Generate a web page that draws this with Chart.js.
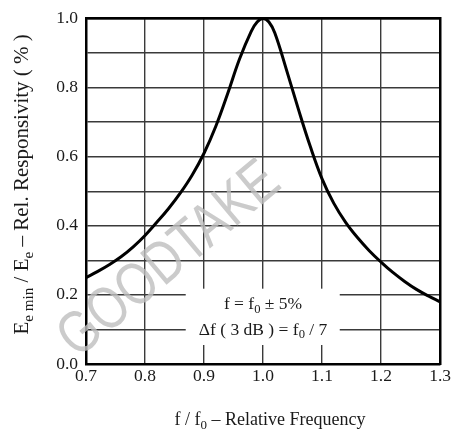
<!DOCTYPE html>
<html>
<head>
<meta charset="utf-8">
<script src="https://cdn.jsdelivr.net/npm/chart.js@4"></script>
<style>
  body { margin: 0; background: #fff; }
  #wrap { width: 453px; height: 430px; }
</style>
</head>
<body>
<div id="wrap"><canvas id="chartCanvas" width="453" height="430"></canvas></div>
<script>
// relative frequency f/f0 and relative responsivity
const freq = [0.70, 0.72, 0.74, 0.76, 0.78, 0.80, 0.82, 0.84, 0.86, 0.88, 0.90, 0.92, 0.94, 0.96, 0.98, 0.99,
  1.00, 1.01, 1.02, 1.04, 1.06, 1.08, 1.10, 1.12, 1.14, 1.16, 1.18, 1.20, 1.22, 1.24, 1.26, 1.28, 1.30];
const responsivity = [0.250, 0.268, 0.288, 0.311, 0.339, 0.372, 0.410, 0.450, 0.495, 0.547, 0.610, 0.688, 0.782, 0.882, 0.963, 0.990,
  1.000, 0.990, 0.958, 0.850, 0.737, 0.630, 0.536, 0.465, 0.410, 0.366, 0.328, 0.295, 0.265, 0.239, 0.216, 0.197, 0.180];

const xTicks = [0.7, 0.8, 0.9, 1.0, 1.1, 1.2, 1.3];
const yLabelTicks = [0.0, 0.2, 0.4, 0.6, 0.8, 1.0];

const xTitle = [{ t: 'f / f' }, { t: '0', sub: true }, { t: ' \u2013 Relative Frequency' }];
const yTitle = [{ t: 'E' }, { t: 'e min', sub: true }, { t: ' / E' }, { t: 'e', sub: true }, { t: ' \u2013 Rel. Responsivity ( % )' }];
const noteLine1 = [{ t: 'f = f' }, { t: '0', sub: true }, { t: ' \u00b1 5%' }];
const noteLine2 = [{ t: '\u0394f ( 3 dB ) = f' }, { t: '0', sub: true }, { t: ' / 7' }];
const watermark = 'GOODTAKE';

const serif = '"Liberation Serif", "Times New Roman", serif';
const textColor = '#1a1a1a';

// draws text with subscript parts, centred on x
function drawRich(ctx, parts, x, y, size) {
  let total = 0;
  parts.forEach(p => {
    ctx.font = (p.sub ? size * 0.72 : size) + 'px ' + serif;
    total += ctx.measureText(p.t).width;
  });
  let cx = x - total / 2;
  ctx.textAlign = 'left';
  ctx.textBaseline = 'alphabetic';
  parts.forEach(p => {
    ctx.font = (p.sub ? size * 0.72 : size) + 'px ' + serif;
    ctx.fillText(p.t, cx, p.sub ? y + size * 0.22 : y);
    cx += ctx.measureText(p.t).width;
  });
}

const decorations = {
  id: 'decorations',
  beforeDatasetsDraw(chart) {
    const { ctx, scales: { x, y } } = chart;
    ctx.save();
    // watermark
    ctx.translate(x.getPixelForValue(0.842), y.getPixelForValue(0.30));
    ctx.rotate(-40 * Math.PI / 180);
    ctx.scale(0.8, 1);
    ctx.fillStyle = 'rgba(190,190,190,0.8)';
    ctx.font = '60px "Liberation Sans", Arial, sans-serif';
    ctx.textAlign = 'center';
    ctx.textBaseline = 'middle';
    ctx.fillText(watermark, 0, 0);
    ctx.restore();

    // white box behind the note
    ctx.save();
    const bx0 = x.getPixelForValue(0.869), bx1 = x.getPixelForValue(1.130);
    const by0 = y.getPixelForValue(0.218), by1 = y.getPixelForValue(0.055);
    ctx.fillStyle = '#fff';
    ctx.fillRect(bx0, by0, bx1 - bx0, by1 - by0);
    ctx.fillStyle = textColor;
    drawRich(ctx, noteLine1, x.getPixelForValue(1.0), y.getPixelForValue(0.158), 17.5);
    drawRich(ctx, noteLine2, x.getPixelForValue(1.0), y.getPixelForValue(0.085), 17.5);
    ctx.restore();
  },
  afterDraw(chart) {
    const { ctx, chartArea, scales: { y } } = chart;
    ctx.save();
    ctx.fillStyle = textColor;
    drawRich(ctx, xTitle, (chartArea.left + chartArea.right) / 2 + 7, 425, 18);
    ctx.translate(28, y.getPixelForValue(0.52));
    ctx.rotate(-Math.PI / 2);
    drawRich(ctx, yTitle, 0, 0, 21);
    ctx.restore();
  }
};

const ctx = document.getElementById('chartCanvas').getContext('2d');
const chart = new Chart(ctx, {
  type: 'line',
  data: {
    datasets: [{
      data: freq.map((f, i) => ({ x: f, y: responsivity[i] })),
      borderColor: '#000',
      borderWidth: 3,
      pointRadius: 0,
      tension: 0.4,
      fill: false,
      clip: false
    }]
  },
  options: {
    responsive: false,
    animation: false,
    layout: { padding: { left: 0, right: 12, top: 15, bottom: 0 } },
    plugins: { legend: { display: false }, tooltip: { enabled: false } },
    scales: {
      x: {
        type: 'linear',
        min: 0.7,
        max: 1.3,
        afterBuildTicks: scale => { scale.ticks = xTicks.map(v => ({ value: v })); },
        afterFit: scale => { scale.height = 66; },
        ticks: {
          font: { family: serif, size: 17.5 },
          color: textColor,
          padding: 2,
          maxRotation: 0,
          callback: v => v.toFixed(1)
        },
        grid: { color: '#3a3a3a', lineWidth: 1.4, drawTicks: false },
        border: { color: '#000', width: 2.5 }
      },
      y: {
        min: 0,
        max: 1,
        afterFit: scale => { scale.width = 86; },
        ticks: {
          stepSize: 0.1,
          font: { family: serif, size: 17.5 },
          color: textColor,
          padding: 8,
          callback: v => yLabelTicks.some(t => Math.abs(t - v) < 1e-6) ? v.toFixed(1) : ''
        },
        grid: { color: '#3a3a3a', lineWidth: 1.4, drawTicks: false },
        border: { color: '#000', width: 2.5 }
      },
      x2: {
        type: 'linear', position: 'top', min: 0.7, max: 1.3,
        afterFit: scale => { scale.height = 0; },
        ticks: { display: false }, grid: { display: false, drawTicks: false },
        border: { color: '#000', width: 2.5 }
      },
      y2: {
        position: 'right', min: 0, max: 1,
        afterFit: scale => { scale.width = 0; },
        ticks: { display: false }, grid: { display: false, drawTicks: false },
        border: { color: '#000', width: 2.5 }
      }
    }
  },
  plugins: [decorations]
});
</script>
</body>
</html>
